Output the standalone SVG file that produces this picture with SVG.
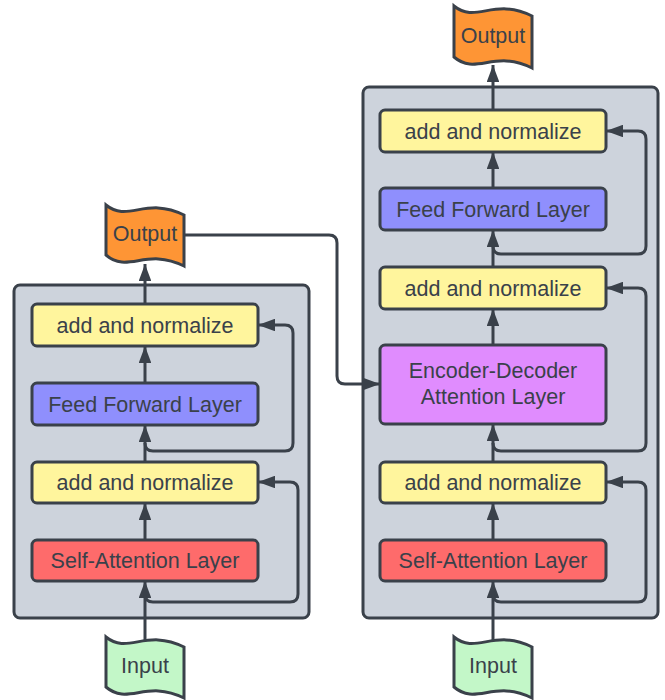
<svg xmlns="http://www.w3.org/2000/svg" width="665" height="700" viewBox="0 0 665 700">
<style>
.ctr{fill:#cdd3dc;stroke:#3a414a;stroke-width:3}
.box{stroke:#3a414a;stroke-width:3}
.an{fill:#fff59d}
.ff{fill:#8f8ffd}
.sa{fill:#fe6b6b}
.ed{fill:#e08cfe}
.out{fill:#fe9535}
.inp{fill:#c3f7c8}
.t{font-family:"Liberation Sans",Arial,sans-serif;font-size:21.5px;fill:#3a414a;text-anchor:middle}
.c{fill:none;stroke:#3a414a;stroke-width:3;marker-end:url(#ah)}
</style>
<defs>
<marker id="ah" markerUnits="userSpaceOnUse" viewBox="0 0 17 12.5" refX="17" refY="6.25" markerWidth="17" markerHeight="12.5" orient="auto">
<path d="M0,0 L17,6.25 L0,12.5 z" fill="#3a414a"/>
</marker>
</defs>
<rect width="665" height="700" fill="#ffffff"/>
<g id="encoder-container"><rect class="ctr" x="14" y="285" width="295" height="333" rx="6"/></g>
<g id="decoder-container"><rect class="ctr" x="363" y="87" width="295" height="531" rx="6"/></g>
<g id="connectors">
<path class="c" d="M145,640 L145,581"/>
<path class="c" d="M145,594 Q145,602 153,602 L290,602 Q298,602 298,594 L298,490 Q298,482 290,482 L258,482"/>
<path class="c" d="M145,540 L145,503"/>
<path class="c" d="M145,462 L145,425"/>
<path class="c" d="M145,443 Q145,451 153,451 L285,451 Q293,451 293,443 L293,333 Q293,325 285,325 L258,325"/>
<path class="c" d="M145,383 L145,346"/>
<path class="c" d="M145,304 L145,264"/>
<path class="c" d="M184,235 L329,235 Q337,235 337,243 L337,376 Q337,384 345,384 L380,384"/>
<path class="c" d="M493,640 L493,581"/>
<path class="c" d="M493,594 Q493,602 501,602 L638,602 Q646,602 646,594 L646,490 Q646,482 638,482 L606,482"/>
<path class="c" d="M493,540 L493,503"/>
<path class="c" d="M493,462 L493,424"/>
<path class="c" d="M493,443 Q493,451 501,451 L638,451 Q646,451 646,443 L646,296 Q646,288 638,288 L606,288"/>
<path class="c" d="M493,345 L493,309"/>
<path class="c" d="M493,267 L493,230"/>
<path class="c" d="M493,246 Q493,254 501,254 L638,254 Q646,254 646,246 L646,139 Q646,131 638,131 L606,131"/>
<path class="c" d="M493,188 L493,152"/>
<path class="c" d="M493,110 L493,65"/>
</g>
<g id="enc-input"><path class="box inp" d="M106,637 C128,655 146,628 184,647 L184,698 C146,679 128,706 106,687 Z"/><text class="t" x="145" y="673">Input</text></g>
<g id="enc-self-attention"><rect class="box sa" x="32" y="540" width="226" height="41" rx="5"/><text class="t" x="145" y="568">Self-Attention Layer</text></g>
<g id="enc-add-norm-1"><rect class="box an" x="32" y="462" width="226" height="41" rx="5"/><text class="t" x="145" y="490">add and normalize</text></g>
<g id="enc-feed-forward"><rect class="box ff" x="32" y="383" width="226" height="42" rx="5"/><text class="t" x="145" y="412">Feed Forward Layer</text></g>
<g id="enc-add-norm-2"><rect class="box an" x="32" y="304" width="226" height="42" rx="5"/><text class="t" x="145" y="333">add and normalize</text></g>
<g id="enc-output"><path class="box out" d="M106,205 C128,223 146,196 184,215 L184,266 C146,247 128,274 106,255 Z"/><text class="t" x="145" y="241">Output</text></g>
<g id="dec-input"><path class="box inp" d="M454,637 C476,655 494,628 532,647 L532,698 C494,679 476,706 454,687 Z"/><text class="t" x="493" y="673">Input</text></g>
<g id="dec-self-attention"><rect class="box sa" x="380" y="540" width="226" height="41" rx="5"/><text class="t" x="493" y="568">Self-Attention Layer</text></g>
<g id="dec-add-norm-1"><rect class="box an" x="380" y="462" width="226" height="41" rx="5"/><text class="t" x="493" y="490">add and normalize</text></g>
<g id="dec-enc-dec-attention"><rect class="box ed" x="380" y="345" width="226" height="79" rx="5"/><text class="t" x="493" y="378">Encoder-Decoder</text><text class="t" x="493" y="404">Attention Layer</text></g>
<g id="dec-add-norm-2"><rect class="box an" x="380" y="267" width="226" height="42" rx="5"/><text class="t" x="493" y="296">add and normalize</text></g>
<g id="dec-feed-forward"><rect class="box ff" x="380" y="188" width="226" height="42" rx="5"/><text class="t" x="493" y="217">Feed Forward Layer</text></g>
<g id="dec-add-norm-3"><rect class="box an" x="380" y="110" width="226" height="42" rx="5"/><text class="t" x="493" y="139">add and normalize</text></g>
<g id="dec-output"><path class="box out" d="M454,6 C476,24 494,-3 532,16 L532,68 C494,49 476,76 454,57 Z"/><text class="t" x="493" y="43">Output</text></g>
</svg>
